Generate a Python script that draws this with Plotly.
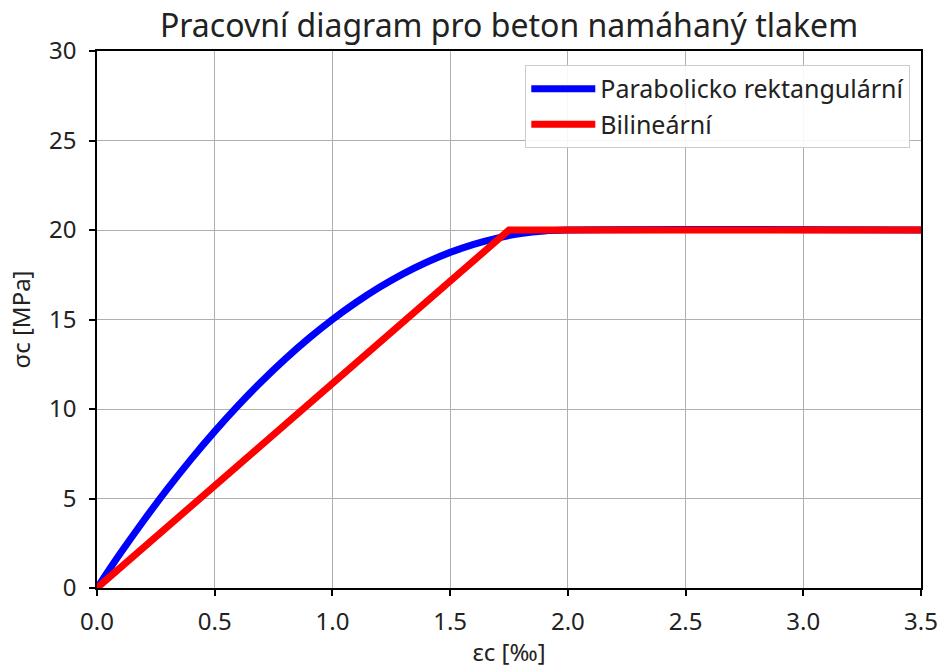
import plotly.graph_objects as go

# Parabolic-rectangular diagram
eps_parab = [0.0, 0.1, 0.2, 0.3, 0.4, 0.5, 0.6, 0.7, 0.8, 0.9, 1.0, 1.1, 1.2, 1.3,
             1.4, 1.5, 1.6, 1.7, 1.8, 1.9, 2.0, 3.5]
sig_parab = [0.0, 1.95, 3.8, 5.55, 7.2, 8.75, 10.2, 11.55, 12.8, 13.95, 15.0, 15.95,
             16.8, 17.55, 18.2, 18.75, 19.2, 19.55, 19.8, 19.95, 20.0, 20.0]

# Bilinear diagram
eps_bilin = [0.0, 1.75, 3.5]
sig_bilin = [0.0, 20.0, 20.0]

x_ticks = [0.0, 0.5, 1.0, 1.5, 2.0, 2.5, 3.0, 3.5]
y_ticks = [0, 5, 10, 15, 20, 25, 30]

FONT = "Noto Sans"

fig = go.Figure()
fig.add_trace(go.Scatter(x=eps_parab, y=sig_parab, mode="lines",
                         line=dict(color="#0000ff", width=7, shape="spline"),
                         name="Parabolicko rektangulární"))
fig.add_trace(go.Scatter(x=eps_bilin, y=sig_bilin, mode="lines",
                         line=dict(color="#ff0000", width=7),
                         name="Bilineární"))

axis_common = dict(showline=True, linecolor="black", linewidth=1.5, mirror=True,
                   ticks="outside", ticklen=6, tickcolor="black", tickwidth=1.5,
                   showgrid=True, gridcolor="#b0b0b0", gridwidth=1, zeroline=False,
                   automargin=False,
                   tickfont=dict(family=FONT, size=24, color="#222"))

fig.update_layout(
    width=942, height=668,
    margin=dict(l=97, r=21, t=51, b=80),
    paper_bgcolor="white", plot_bgcolor="white",
    font=dict(family=FONT, color="#222"),
    title=dict(text="Pracovní diagram pro beton namáhaný tlakem", xref="paper", x=0.5,
               xanchor="center", y=0.962, yanchor="middle",
               font=dict(family=FONT, size=32, color="#222")),
    xaxis=dict(range=[0, 3.5], tickvals=x_ticks, ticktext=[f"{v:.1f}" for v in x_ticks],
               ticklabelstandoff=5,
               title=dict(text="εc [‰]", font=dict(family=FONT, size=24), standoff=10),
               **axis_common),
    yaxis=dict(range=[0, 30], tickvals=y_ticks, ticklabelstandoff=8,
               title=dict(text="σc [MPa]", font=dict(family=FONT, size=24), standoff=12),
               **axis_common),
    legend=dict(x=0.987, y=0.974, xanchor="right", yanchor="top",
                bgcolor="rgba(255,255,255,0.9)", bordercolor="#cccccc", borderwidth=1,
                font=dict(family=FONT, size=25, color="#222"), itemwidth=64,
                tracegroupgap=0),
    showlegend=True,
)

fig.write_html("out.html")
